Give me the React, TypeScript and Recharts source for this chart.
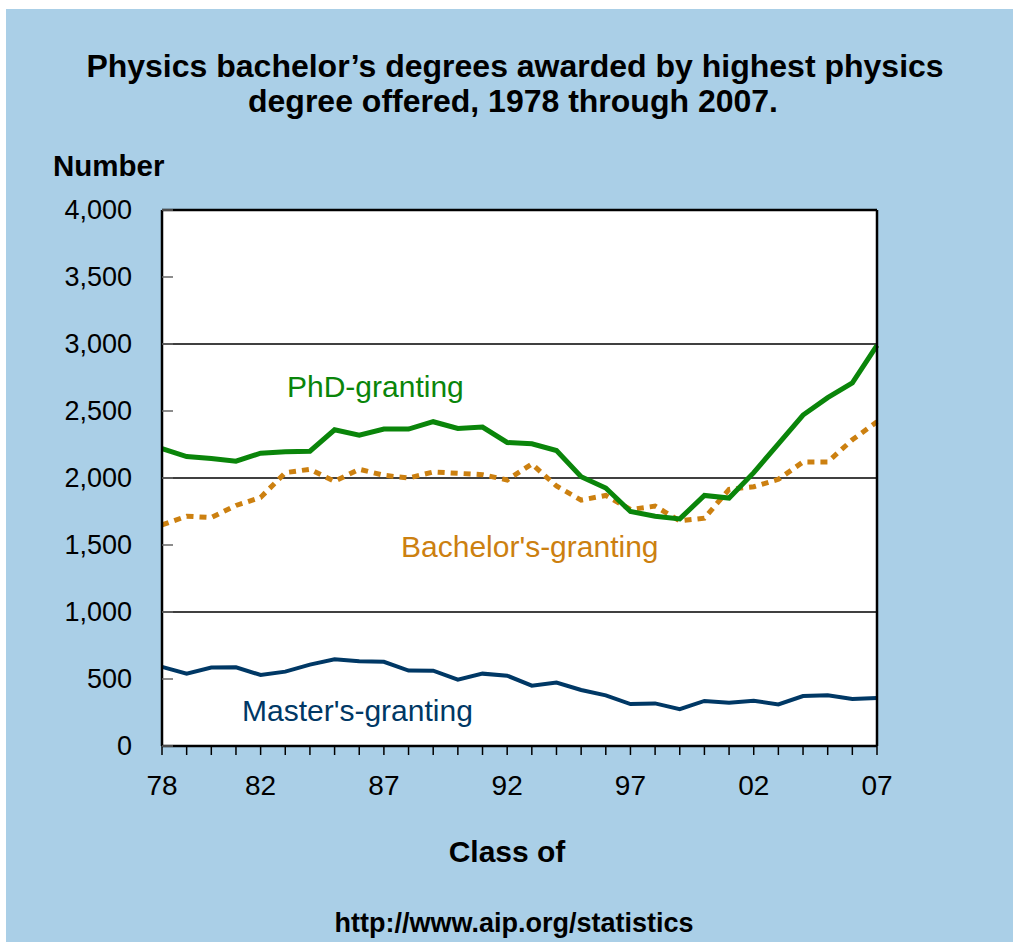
import React from 'react';
import { LineChart, Line, XAxis, YAxis, CartesianGrid, ReferenceLine } from 'recharts';

const years = [
    1978, 1979, 1980, 1981, 1982, 1983, 1984, 1985, 1986, 1987,
    1988, 1989, 1990, 1991, 1992, 1993, 1994, 1995, 1996, 1997,
    1998, 1999, 2000, 2001, 2002, 2003, 2004, 2005, 2006, 2007,
];
const phdGranting = [
    2220, 2160, 2145, 2125, 2185, 2195, 2200, 2360, 2320, 2365,
    2365, 2420, 2370, 2380, 2265, 2255, 2205, 2010, 1925, 1750,
    1715, 1695, 1870, 1850, 2040, 2255, 2470, 2600, 2710, 2990,
];
const bachelorsGranting = [
    1650, 1715, 1705, 1795, 1855, 2040, 2065, 1975, 2065, 2020,
    2000, 2045, 2035, 2025, 1985, 2105, 1940, 1835, 1870, 1765,
    1790, 1680, 1700, 1915, 1935, 1990, 2120, 2120, 2285, 2420,
];
const mastersGranting = [
    590, 540, 585, 587, 530, 555, 607, 647, 632, 628,
    563, 562, 495, 540, 525, 450, 473, 418, 378, 313,
    318, 275, 336, 323, 338, 310, 373, 378, 351, 358,
];
const labelYears = [1978, 1982, 1987, 1992, 1997, 2002, 2007];
const yTicks = [0, 500, 1000, 1500, 2000, 2500, 3000, 3500, 4000];
const gridValues = [1000, 2000, 3000];

const data = years.map((year, i) => ({
    year,
    phd: phdGranting[i],
    bachelors: bachelorsGranting[i],
    masters: mastersGranting[i],
}));

const FONT = '"Liberation Sans", Arial, Helvetica, sans-serif';
const BG = '#AACFE7';

const fmt = (v: number) => v.toLocaleString('en-US');

const XTick = (props: any) => {
    const { x, y, payload } = props;
    const show = labelYears.includes(payload.value);
    return (
        <g>
            <line x1={x} x2={x} y1={y} y2={y + 9} stroke="#000" strokeWidth={1.5} />
            {show && (
                <text x={x} y={y + 49} textAnchor="middle" fontSize={28} fontFamily={FONT} fill="#000">
                    {String(payload.value).slice(2)}
                </text>
            )}
        </g>
    );
};

const LeftTick = (props: any) => {
    const { x, y, payload } = props;
    return (
        <g>
            <line x1={x} x2={x + 11} y1={y} y2={y} stroke="#666" strokeWidth={1.5} />
            <text x={x - 30} y={y + 9} textAnchor="end" fontSize={27} fontFamily={FONT} fill="#000">
                {fmt(payload.value)}
            </text>
        </g>
    );
};

const RightTick = (props: any) => {
    const { x, y, payload } = props;
    return (
        <g>
            <line x1={x} x2={x - 11} y1={y} y2={y} stroke="#666" strokeWidth={1.5} />
            <text x={x + 14} y={y + 9} textAnchor="start" fontSize={27} fontFamily={FONT} fill="#000">
                {fmt(payload.value)}
            </text>
        </g>
    );
};

export default function App() {
    return (
        <div style={{ position: 'absolute', left: 6, top: 9, width: 1007, height: 933, background: BG }}>
            <LineChart
                width={1007}
                height={933}
                data={data}
                margin={{ top: 201, right: 76, bottom: 166, left: 96 }}
            >
                <CartesianGrid
                    yAxisId="left"
                    fill="#ffffff"
                    fillOpacity={1}
                    vertical={false}
                    horizontalValues={gridValues}
                    stroke="#000"
                    strokeWidth={1.5}
                />
                <XAxis
                    dataKey="year"
                    type="number"
                    domain={[1978, 2007]}
                    ticks={years}
                    interval={0}
                    height={30}
                    tickSize={0}
                    tickMargin={0}
                    tickLine={false}
                    axisLine={{ stroke: '#000', strokeWidth: 2.5 }}
                    tick={<XTick />}
                />
                <YAxis
                    yAxisId="left"
                    domain={[0, 4000]}
                    ticks={yTicks}
                    interval={0}
                    width={60}
                    tickSize={0}
                    tickMargin={0}
                    tickLine={false}
                    axisLine={{ stroke: '#000', strokeWidth: 2.5 }}
                    tick={<LeftTick />}
                />
                <YAxis
                    yAxisId="right"
                    orientation="right"
                    domain={[0, 4000]}
                    ticks={yTicks}
                    interval={0}
                    width={60}
                    tickSize={0}
                    tickMargin={0}
                    tickLine={false}
                    axisLine={{ stroke: '#000', strokeWidth: 2.5 }}
                    tick={<RightTick />}
                />
                <ReferenceLine yAxisId="left" y={4000} stroke="#000" strokeWidth={2.5} />
                <Line
                    yAxisId="left"
                    dataKey="masters"
                    stroke="#003865"
                    strokeWidth={4}
                    dot={false}
                    isAnimationActive={false}
                />
                <Line
                    yAxisId="left"
                    dataKey="bachelors"
                    stroke="#CC8010"
                    strokeWidth={5}
                    strokeDasharray="7 6"
                    dot={false}
                    isAnimationActive={false}
                />
                <Line
                    yAxisId="left"
                    dataKey="phd"
                    stroke="#0A850A"
                    strokeWidth={5}
                    dot={false}
                    isAnimationActive={false}
                />
            </LineChart>
            <svg
                width={1007}
                height={933}
                style={{ position: 'absolute', left: 0, top: 0, pointerEvents: 'none' }}
                fontFamily={FONT}
            >
                <text x={509} y={68} textAnchor="middle" fontSize={32} fontWeight="bold" fill="#000">
                    Physics bachelor’s degrees awarded by highest physics
                </text>
                <text x={507} y={103} textAnchor="middle" fontSize={32} fontWeight="bold" fill="#000">
                    degree offered, 1978 through 2007.
                </text>
                <text x={47} y={167} fontSize={29.5} fontWeight="bold" fill="#000">Number</text>
                <text x={281} y={388} fontSize={30} fill="#0A850A">PhD-granting</text>
                <text x={395} y={548} fontSize={30} fill="#CC8010">Bachelor's-granting</text>
                <text x={236} y={712} fontSize={30} fill="#003865">Master's-granting</text>
                <text x={501} y={853} textAnchor="middle" fontSize={30} fontWeight="bold" fill="#000">Class of</text>
                <text x={508} y={923} textAnchor="middle" fontSize={27} fontWeight="bold" fill="#000">
                    http://www.aip.org/statistics
                </text>
            </svg>
        </div>
    );
}
